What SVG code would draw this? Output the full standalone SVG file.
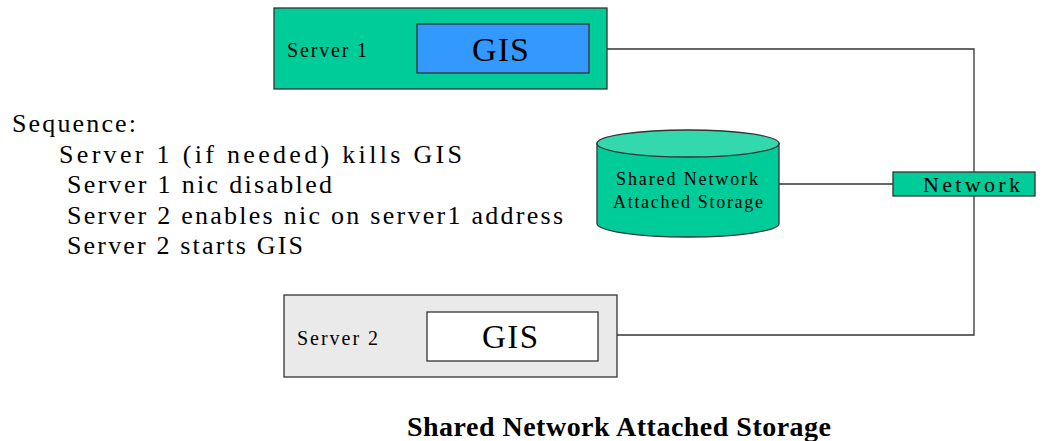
<svg xmlns="http://www.w3.org/2000/svg" width="1045" height="441" viewBox="0 0 1045 441">
<style>
text{font-family:"Liberation Serif","Times New Roman",serif;fill:#000}
.box{stroke:#333;stroke-width:1.3}
.conn{fill:none;stroke:#333;stroke-width:1.3}
.seq{font-size:26px}
</style>
<rect width="1045" height="441" fill="#fff"/>
<g id="connectors">
<polyline class="conn" points="607,49 974,49 974,172"/>
<polyline class="conn" points="974,196 974,335 617,335"/>
<line class="conn" x1="779" y1="184" x2="893" y2="184"/>
</g>
<g id="server1">
<rect class="box" x="274" y="8" width="333" height="81" fill="#00cc99"/>
<text x="287" y="57" font-size="20" textLength="80" lengthAdjust="spacing">Server 1</text>
<rect class="box" x="417" y="24" width="172" height="49" fill="#3399ff"/>
<text x="472" y="61" font-size="34" textLength="57" lengthAdjust="spacing">GIS</text>
</g>
<g id="server2">
<rect class="box" x="284" y="295" width="333" height="82" fill="#eaeaea"/>
<text x="297" y="345" font-size="20" textLength="81" lengthAdjust="spacing">Server 2</text>
<rect class="box" x="427" y="312" width="171" height="49" fill="#fff"/>
<text x="482" y="348" font-size="33" textLength="56" lengthAdjust="spacing">GIS</text>
</g>
<g id="storage">
<path class="box" d="M597,143.5 V223.5 A91,13.5 0 0 0 779,223.5 V143.5 Z" fill="#00cc99"/>
<ellipse class="box" cx="688" cy="143.5" rx="91" ry="13.5" fill="#33d9ad"/>
<text x="616" y="185" font-size="18" textLength="142" lengthAdjust="spacing">Shared Network</text>
<text x="613" y="208" font-size="18" textLength="150" lengthAdjust="spacing">Attached Storage</text>
</g>
<g id="network">
<rect class="box" x="893" y="172" width="142" height="24" fill="#00cc99"/>
<text x="923" y="192" font-size="22" textLength="97" lengthAdjust="spacing">Network</text>
</g>
<g id="sequence">
<text class="seq" x="12" y="132" textLength="124" lengthAdjust="spacing">Sequence:</text>
<text class="seq" x="59" y="163" textLength="403" lengthAdjust="spacing">Server 1 (if needed) kills GIS</text>
<text class="seq" x="67" y="193" textLength="265" lengthAdjust="spacing">Server 1 nic disabled</text>
<text class="seq" x="67" y="224" textLength="496" lengthAdjust="spacing">Server 2 enables nic on server1 address</text>
<text class="seq" x="67" y="254" textLength="236" lengthAdjust="spacing">Server 2 starts GIS</text>
</g>
<g id="title">
<text x="407" y="436" font-size="28" font-weight="bold" textLength="424" lengthAdjust="spacing">Shared Network Attached Storage</text>
</g>
</svg>
